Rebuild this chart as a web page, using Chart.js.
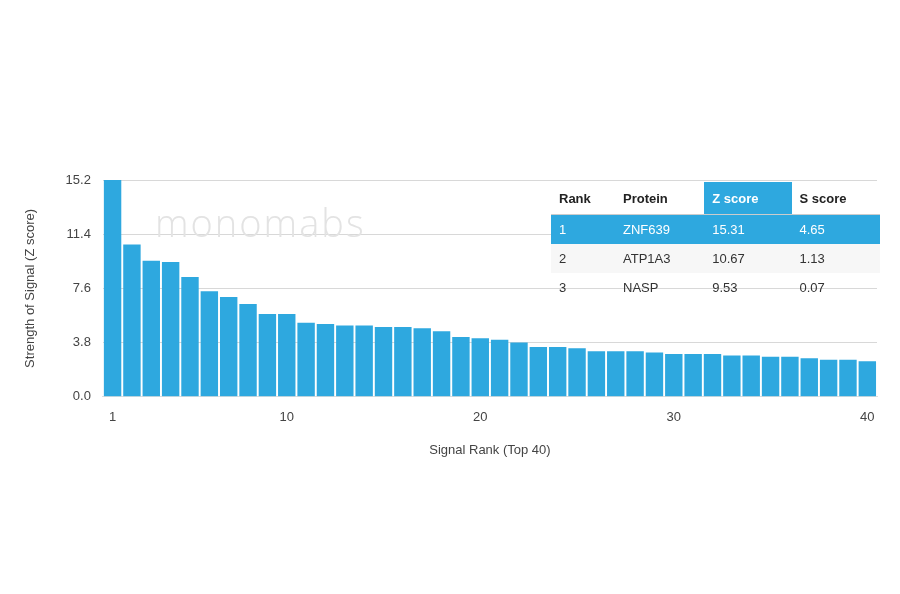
<!DOCTYPE html><html><head><script src="https://cdn.jsdelivr.net/npm/chart.js@4"></script>
<style>
body{margin:0;background:#fff;font-family:"Liberation Sans",Arial,sans-serif}
#wrap{position:relative;width:900px;height:594px}
#c{position:absolute;left:0;top:0}
#wm{position:absolute;left:155px;top:196px;font:300 38px "Open Sans",sans-serif;color:#e3e3e3;letter-spacing:2px}
table{position:absolute;left:551px;top:182px;width:329px;border-collapse:collapse;font-size:13px;color:#333}
td{padding:0 0 0 8px;height:29px}
th{text-align:left;padding:0 0 0 8px;height:32px;font-weight:bold;color:#222;border-bottom:1px solid #ccc}
.hl td{background:#2ea8df;color:#fff}
th.hl{background:#2ea8df;color:#fff}
tr.r2 td{background:#f7f7f7}
</style></head><body><div id="wrap"><canvas id="c" width="900" height="594"></canvas><div id="wm">monomabs</div>
<table id="t"></table></div>
<script>
const ranks=Array.from({length:40},(_,i)=>String(i+1));
const zscores=[15.31,10.67,9.53,9.45,8.4,7.4,7.0,6.5,5.8,5.8,5.2,5.1,5.0,5.0,4.9,4.9,4.8,4.6,4.2,4.1,4.0,3.8,3.5,3.5,3.4,3.2,3.2,3.2,3.1,3.0,3.0,3.0,2.9,2.9,2.8,2.8,2.7,2.6,2.6,2.5];
const yTicks=[0,3.8,7.6,11.4,15.2];
const xTickShown=["1","10","20","30","40"];
const tableRank=["1","2","3"],tableProtein=["ZNF639","ATP1A3","NASP"],tableZ=["15.31","10.67","9.53"],tableS=["4.65","1.13","0.07"];
let h='<tr><th>Rank</th><th>Protein</th><th class="hl">Z score</th><th>S score</th></tr>';
tableRank.forEach((r,i)=>{h+=`<tr class="${i==0?'hl':i==1?'r2':''}"><td>${r}</td><td>${tableProtein[i]}</td><td>${tableZ[i]}</td><td>${tableS[i]}</td></tr>`});
document.getElementById('t').innerHTML=h;
new Chart(document.getElementById('c'),{type:'bar',data:{labels:ranks,datasets:[{data:zscores,backgroundColor:'#2ea8df',barPercentage:0.9,categoryPercentage:1}]},
options:{responsive:false,animation:false,layout:{padding:{left:19,right:23,top:180,bottom:132}},plugins:{legend:{display:false},tooltip:{enabled:false}},
scales:{x:{grid:{display:false},border:{display:true,color:'#ddd'},title:{display:true,text:'Signal Rank (Top 40)',color:'#444',font:{size:13},padding:{top:12,bottom:4}},
ticks:{color:'#444',font:{size:13},padding:5,autoSkip:false,maxRotation:0,callback:function(v){const l=this.getLabelForValue(v);return xTickShown.includes(l)?l:''}}},
y:{min:0,max:15.2,afterBuildTicks:a=>{a.ticks=yTicks.map(v=>({value:v}))},grid:{color:'#d8d8d8',drawTicks:false},border:{display:false},
title:{display:true,text:'Strength of Signal (Z score)',color:'#444',font:{size:13},padding:{top:4,bottom:15}},ticks:{color:'#444',font:{size:13},padding:12,callback:v=>v.toFixed(1)}}}}});
</script></body></html>
